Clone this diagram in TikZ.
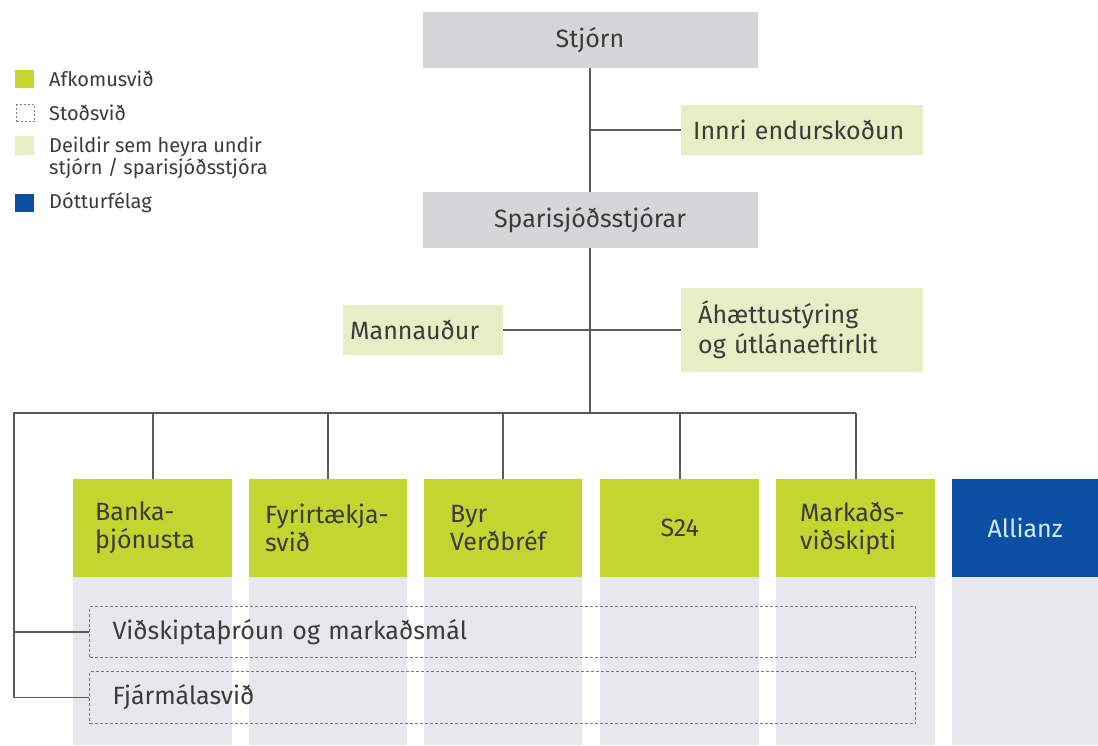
\documentclass[tikz,border=0pt]{standalone}
\usepackage{fontspec}
\setmainfont{Fira Sans}
\usetikzlibrary{calc}
\definecolor{cLime}{HTML}{C2D62F}
\definecolor{cPale}{HTML}{E7EEC6}
\definecolor{cBoxGray}{HTML}{D5D6D8}
\definecolor{cColGray}{HTML}{E6E8EB}
\definecolor{cBlue}{HTML}{0A4FA3}
\definecolor{cAllText}{HTML}{D6E8F7}
\definecolor{cLine}{HTML}{5A5A5A}
\definecolor{cText}{HTML}{3B3B3B}
\definecolor{cDash}{HTML}{7A7A7A}
\definecolor{cLegDash}{HTML}{6D7DB3}
\newcommand\mainfs{\fontsize{25}{28}\selectfont}
\newcommand\twofs{\fontsize{25}{30}\selectfont}
\newcommand\legfs{\fontsize{20}{20}\selectfont}
\begin{document}
\begin{tikzpicture}[x=1pt,y=-1pt,
  head/.style={fill=cBoxGray, minimum width=335, minimum height=56, inner sep=0, font=\mainfs, text=cText},
  pale/.style={fill=cPale, font=\mainfs, text=cText, align=left, inner sep=0, anchor=north west},
  unit/.style={fill=cLime, minimum height=98, inner ysep=0, font=\mainfs, align=left, text=cText, anchor=north west},
  stod/.style={draw=cDash, dash pattern=on 3pt off 2pt, line width=1pt, minimum width=826, minimum height=51,
    inner sep=0, anchor=north west, font=\mainfs, text=cText, align=left},
  conn/.style={draw=cLine, line width=1.8pt},
  legsq/.style={minimum width=19, minimum height=18, inner sep=0, anchor=north west},
  legtxt/.style={font=\legfs, text=cText, anchor=west, align=left, inner sep=0}]
\useasboundingbox[fill=white] (0,0) rectangle (1098,745);
\coordinate (bottom) at (0,745);

% legend
\node[legsq, fill=cLime] (lg1) at (15,70) {};
\node[legtxt] (lt1) at (49,79) {Afkomusvið};
\node[legsq, draw=cLegDash, dash pattern=on 2pt off 2pt, line width=1pt, minimum width=18, minimum height=17] (lg2) at (16,104) {};
\node[legtxt] (lt2) at (49,113) {Stoðsvið};
\node[legsq, fill=cPale, minimum height=19] (lg3) at (15,136) {};
\node[legtxt, anchor=north west] (lt3) at (49,137) {\fontsize{20}{20}\selectfont Deildir sem heyra undir\\stjórn / sparisjóðsstjóra};
\node[legsq, fill=cBlue] (lg4) at (15,194) {};
\node[legtxt] (lt4) at (49,203) {Dótturfélag};

% top boxes
\node[head] (stjorn) at (590,40) {Stjórn};
\node[head] (spari) at (590,220) {Sparisjóðsstjórar};
\node[pale, minimum width=242, minimum height=50, text width=218, inner xsep=12] (innri) at (681,105) {Innri endurskoðun};
\node[pale, minimum width=160, minimum height=50, text width=146, inner xsep=7] (mann) at (343,305) {Mannauður};
\node[pale, minimum width=242, minimum height=84, text width=208, inner xsep=17, font=\twofs] (ahaettu) at (681,288) {Áhættustýring\\og útlánaeftirlit};

% unit boxes
\node[unit, minimum width=159, text width=115, inner xsep=22] (banka) at (73,479) {Banka-\\þjónusta};
\node[unit, minimum width=158, text width=126, inner xsep=16] (fyr) at (249,479) {Fyrirtækja-\\svið};
\node[unit, minimum width=158, text width=106, inner xsep=26] (byr) at (424,479) {Byr\\Verðbréf};
\node[unit, minimum width=159, text width=159, inner xsep=0, align=center] (s24) at (600,479) {S24};
\node[unit, minimum width=159, text width=111, inner xsep=24] (mark) at (776,479) {Markaðs-\\viðskipti};
\node[unit, fill=cBlue, text=cAllText, minimum width=146, text width=146, inner xsep=0, align=center] (allianz) at (952,479) {Allianz};

% columns
\foreach \n in {banka,fyr,byr,s24,mark,allianz}
  \fill[cColGray] (\n.south west) rectangle (\n.south east |- bottom);

% support units
\node[stod, text width=780, inner xsep=23, minimum height=51] (vid) at (89,606) {Viðskiptaþróun og markaðsmál};
\node[stod, text width=780, inner xsep=23, minimum height=52] (fjar) at (89,671) {Fjármálasvið};

% connectors
\coordinate (busL) at (14,413);
\draw[conn] (stjorn.south) -- (spari.north);
\draw[conn] (stjorn.south |- innri.west) -- (innri.west);
\draw[conn] (mann.east) -- (ahaettu.west);
\draw[conn] (spari.south) -- (spari.south |- busL);
\draw[conn] (mark.north |- busL) -- (busL) |- (fjar.west);
\draw[conn] (busL |- vid.west) -- (vid.west);
\foreach \n in {banka,fyr,byr,s24,mark}
  \draw[conn] (\n.north |- busL) -- (\n.north);
\end{tikzpicture}
\end{document}
